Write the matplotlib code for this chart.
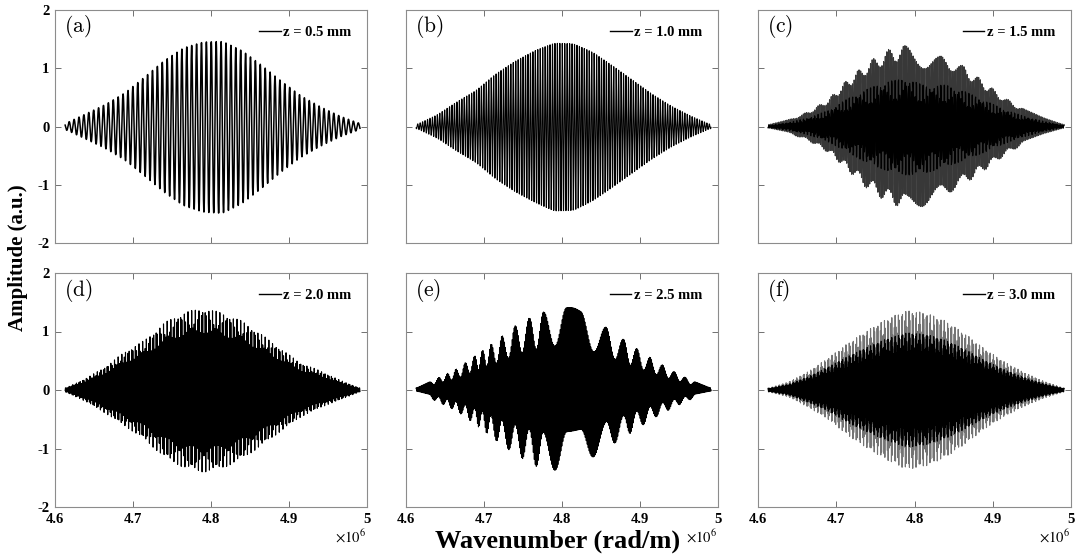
import numpy as np
import matplotlib
matplotlib.use("Agg")
import matplotlib.pyplot as plt

plt.rcParams["font.family"] = ["Liberation Serif", "DejaVu Serif"]
plt.rcParams["axes.unicode_minus"] = False

# ---------------------------------------------------------------
# values
# ---------------------------------------------------------------
panel_tags = ["(a)", "(b)", "(c)", "(d)", "(e)", "(f)"]
depth_mm = [0.5, 1.0, 1.5, 2.0, 2.5, 3.0]

# wavenumber positions of the envelope readings (x 1e6 rad/m)
k_env = [4.613, 4.64, 4.665, 4.69, 4.715, 4.74, 4.765, 4.79,
         4.815, 4.84, 4.865, 4.89, 4.915, 4.94, 4.965, 4.991]

# upper / lower outline of each trace (a.u.)
top_a = [0.05, 0.22, 0.38, 0.58, 0.85, 1.13, 1.35, 1.45, 1.46, 1.30, 1.05, 0.78, 0.53, 0.34, 0.18, 0.05]
bot_a = [0.05, 0.22, 0.38, 0.58, 0.85, 1.13, 1.36, 1.47, 1.49, 1.32, 1.06, 0.78, 0.53, 0.34, 0.18, 0.05]
top_b = [0.03, 0.20, 0.42, 0.62, 0.90, 1.12, 1.30, 1.43, 1.42, 1.27, 1.04, 0.80, 0.56, 0.35, 0.18, 0.03]
bot_b = [0.03, 0.20, 0.42, 0.62, 0.90, 1.12, 1.30, 1.45, 1.44, 1.27, 1.04, 0.80, 0.56, 0.35, 0.18, 0.03]
top_c = [0.03, 0.12, 0.26, 0.47, 0.82, 1.10, 1.32, 1.40, 1.18, 1.22, 1.02, 0.76, 0.50, 0.30, 0.15, 0.03]
bot_c = [0.03, 0.12, 0.25, 0.45, 0.76, 1.08, 1.30, 1.43, 1.36, 1.18, 0.98, 0.75, 0.50, 0.30, 0.15, 0.03]
top_d = [0.03, 0.20, 0.40, 0.66, 0.85, 1.15, 1.33, 1.40, 1.32, 1.18, 0.95, 0.70, 0.46, 0.33, 0.17, 0.03]
bot_d = [0.03, 0.20, 0.40, 0.62, 0.85, 1.15, 1.33, 1.41, 1.34, 1.18, 0.95, 0.70, 0.46, 0.30, 0.17, 0.03]
top_e = [0.03, 0.20, 0.36, 0.60, 0.84, 1.10, 1.28, 1.40, 1.41, 1.22, 1.00, 0.76, 0.54, 0.34, 0.17, 0.03]
bot_e = [0.03, 0.20, 0.36, 0.60, 0.86, 1.10, 1.30, 1.38, 1.30, 1.15, 0.93, 0.72, 0.50, 0.32, 0.16, 0.03]
top_f = [0.03, 0.14, 0.32, 0.55, 0.80, 1.02, 1.22, 1.36, 1.32, 1.18, 0.96, 0.70, 0.48, 0.30, 0.15, 0.03]
bot_f = [0.03, 0.12, 0.30, 0.50, 0.78, 1.00, 1.20, 1.36, 1.30, 1.15, 0.92, 0.66, 0.45, 0.28, 0.14, 0.03]
tops = [top_a, top_b, top_c, top_d, top_e, top_f]
bots = [bot_a, bot_b, bot_c, bot_d, bot_e, bot_f]

# weaker second reflection: relative strength and extra depth (mm)
ghost_ratio = [0.0, 0.0, 0.0, 0.18, 0.0, 0.30]
ghost_shift_mm = [0.0, 0.0, 0.0, 0.7, 0.0, 0.7]

# slow beat term: relative strength, crest positions (x 1e6 rad/m) and cycle number
beat_ratio = [0.0, 0.0, 0.10, 0.0, 0.30, 0.0]
crest_k_c = [4.64, 4.66, 4.678, 4.695, 4.711, 4.728, 4.747, 4.767, 4.787,
             4.833, 4.862, 4.882, 4.90, 4.92, 4.94]
crest_n_c = list(range(len(crest_k_c)))
crest_k_e = [4.63, 4.642, 4.653, 4.664, 4.676, 4.688, 4.698, 4.709, 4.723, 4.740, 4.758,
             4.776, 4.806, 4.824, 4.857, 4.879, 4.896, 4.913, 4.929, 4.944, 4.958, 4.971]
crest_n_e = [0, 1, 2, 3, 4, 5, 6, 7, 8, 9, 10,
             11, 12, 12, 13, 14, 15, 16, 17, 18, 19, 20]
crest_k = [None, None, crest_k_c, None, crest_k_e, None]
crest_n = [None, None, crest_n_c, None, crest_n_e, None]

# dark core (fraction of the outline), its ragged edge, grey of the outer fringes
core_frac = [None, None, 0.45, None, None, 0.60]
core_rough = [0.0, 0.0, 0.30, 0.0, 0.0, 0.20]
outer_grey = ["black", "black", "0.22", "black", "black", "0.45"]
line_w = [1.1, 0.8, 0.8, 0.8, 0.8, 0.8]

x_ticks = [4.6, 4.7, 4.8, 4.9, 5.0]
x_ticklabels = ["4.6", "4.7", "4.8", "4.9", "5"]
y_ticks = [-2, -1, 0, 1, 2]

# ---------------------------------------------------------------
# build traces
# ---------------------------------------------------------------
k = np.linspace(k_env[0], k_env[-1], 20000)   # x 1e6 rad/m
k_si = k * 1e6


def smooth_env(vals):
    e = np.interp(k, k_env, vals)
    w = np.hanning(801)
    w /= w.sum()
    pad = np.pad(e, 400, mode="edge")
    return np.convolve(pad, w, mode="valid")


traces, cores = [], []
for i in range(6):
    z = depth_mm[i] * 1e-3
    s = np.cos(2 * k_si * z)
    s = s + ghost_ratio[i] * np.cos(2 * k_si * (z + ghost_shift_mm[i] * 1e-3))
    slow = np.zeros_like(k)
    if crest_k[i] is not None:
        phi = np.interp(k, crest_k[i], 2 * np.pi * np.array(crest_n[i]))
        slow = beat_ratio[i] * np.cos(phi)
    norm = 1 + ghost_ratio[i] + beat_ratio[i]
    s = (s + slow) / norm
    top = smooth_env(tops[i])
    bot = smooth_env(bots[i])
    y = np.where(s >= 0, s * top, s * bot)
    traces.append(y)
    if core_frac[i] is None:
        cores.append(None)
    else:
        edge = core_frac[i] * (1 + core_rough[i] * np.cos(2 * k_si * 0.7e-3))
        cores.append(np.clip(y, -edge * bot, edge * top))

# ---------------------------------------------------------------
# plot
# ---------------------------------------------------------------
W, H = 1077, 559
fig = plt.figure(figsize=(W / 100, H / 100), dpi=100)

col_px = [(55, 367), (406, 718), (758, 1071)]
row_px = [(10, 243), (273, 507)]

for i in range(6):
    r, c = divmod(i, 3)
    x0, x1 = col_px[c]
    y0, y1 = row_px[r]
    ax = fig.add_axes([x0 / W, 1 - y1 / H, (x1 - x0) / W, (y1 - y0) / H])
    ax.plot(k * 1e6, traces[i], color=outer_grey[i], lw=line_w[i])
    if cores[i] is not None:
        ax.plot(k * 1e6, cores[i], color="black", lw=line_w[i])
    # legend handle
    ax.plot([], [], color="black", lw=1.0, label=f"z = {depth_mm[i]:.1f} mm")
    ax.set_xlim(4.6e6, 5.0e6)
    ax.set_ylim(-2, 2)
    ax.set_xticks([t * 1e6 for t in x_ticks])
    ax.set_yticks(y_ticks)
    ax.tick_params(direction="in", top=True, right=True, length=4,
                   width=0.6, color="0.35", labelsize=10.5, pad=4)
    for sp in ax.spines.values():
        sp.set_color("0.55")
        sp.set_linewidth(0.8)
    if r == 1:
        ax.set_xticklabels(x_ticklabels, fontweight="bold")
        ax.text(0.997, -0.09, r"$\times10^{6}$", transform=ax.transAxes,
                ha="right", va="top", fontsize=10.5, math_fontfamily="stix")
    else:
        ax.set_xticklabels([])
    if c == 0:
        ax.set_yticklabels([str(t) for t in y_ticks], fontweight="bold")
    else:
        ax.set_yticklabels([])
    ax.text(0.03, 0.985, r"$\mathrm{" + panel_tags[i] + "}$", transform=ax.transAxes,
            ha="left", va="top", fontsize=15.5, math_fontfamily="cm")
    ax.legend(loc="upper right", frameon=False, handlelength=1.5,
              handletextpad=0.15, borderaxespad=0.7,
              prop={"weight": "bold", "size": 10.5})

fig.text(18 / W, 1 - 258 / H, "Amplitude (a.u.)", rotation=90, ha="center",
         va="center", fontsize=15, fontweight="bold")
fig.text(558 / W, 1 - 541 / H, "Wavenumber (rad/m)", ha="center",
         va="center", fontsize=19, fontweight="bold")

fig.savefig("out.png", dpi=100)
